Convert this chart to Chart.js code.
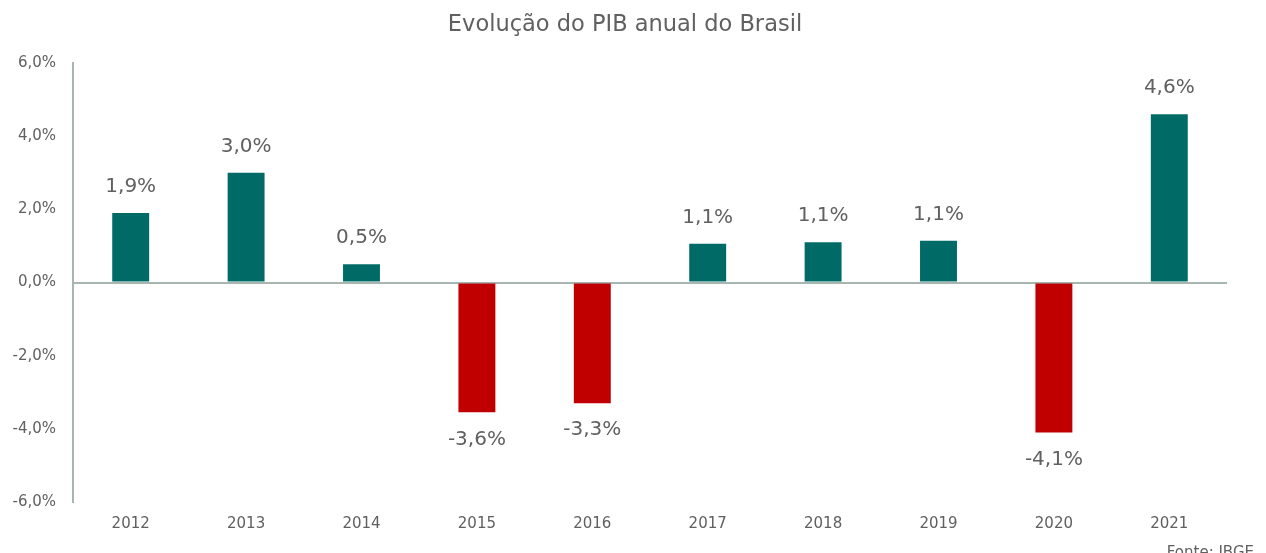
<!DOCTYPE html>
<html>
<head>
<meta charset="utf-8">
<script src="https://cdn.jsdelivr.net/npm/chart.js@4/dist/chart.umd.min.js"></script>
<style>
html,body{margin:0;padding:0;background:#fff;}
#wrap{width:1266px;height:553px;position:relative;}
</style>
</head>
<body>
<div id="wrap"><canvas id="c" width="1266" height="553"></canvas></div>
<script>
const categories = ['2012','2013','2014','2015','2016','2017','2018','2019','2020','2021'];
const pibValues = [1.9, 3.0, 0.5, -3.55, -3.3, 1.06, 1.1, 1.14, -4.1, 4.6];
const valueLabels = ['1,9%','3,0%','0,5%','-3,6%','-3,3%','1,1%','1,1%','1,1%','-4,1%','4,6%'];
const yTicks = [-6, -4, -2, 0, 2, 4, 6];
const titleText = 'Evolução do PIB anual do Brasil';
const sourceText = 'Fonte: IBGE';

const POS = '#006b66', NEG = '#c00000', TXT = '#606060', AXIS = '#a8b6b2';
const FONT = '"DejaVu Sans", sans-serif';

const labelPlugin = {
  id: 'labels',
  afterDatasetsDraw(chart) {
    const ctx = chart.ctx;
    const meta = chart.getDatasetMeta(0);
    ctx.save();
    ctx.fillStyle = TXT;
    ctx.font = '20px ' + FONT;
    ctx.textAlign = 'center';
    ctx.textBaseline = 'middle';
    meta.data.forEach((bar, i) => {
      const v = pibValues[i];
      const y = v >= 0 ? bar.y - 26 : bar.y + 27;
      ctx.fillText(valueLabels[i], bar.x, y);
    });
    // title
    ctx.font = '22.5px ' + FONT;
    ctx.fillText(titleText, 625, 25);
    // source
    ctx.font = '15px ' + FONT;
    ctx.textAlign = 'right';
    ctx.textBaseline = 'alphabetic';
    ctx.fillText(sourceText, 1254, 557);
    ctx.restore();
  }
};

new Chart(document.getElementById('c'), {
  type: 'bar',
  data: {
    labels: categories,
    datasets: [{
      data: pibValues,
      backgroundColor: pibValues.map(v => v >= 0 ? POS : NEG),
      barPercentage: 0.64,
      categoryPercentage: 0.5
    }]
  },
  options: {
    responsive: false,
    animation: false,
    layout: { padding: { top: 63, right: 39, bottom: 0, left: 0 } },
    plugins: { legend: { display: false }, tooltip: { enabled: false }, title: { display: false } },
    scales: {
      x: {
        grid: { display: false, drawTicks: false },
        border: { display: false },
        ticks: { color: TXT, font: { family: FONT, size: 15 }, padding: 13 },
        afterFit(s) { s.height = 51; }
      },
      y: {
        min: -6, max: 6,
        afterBuildTicks(s) { s.ticks = yTicks.map(v => ({ value: v })); },
        grid: {
          drawTicks: false,
          color: c => (c.tick && c.tick.value === 0) ? AXIS : 'rgba(0,0,0,0)',
          lineWidth: 2
        },
        border: { display: true, color: AXIS, width: 2 },
        ticks: {
          color: TXT, font: { family: FONT, size: 15 }, padding: 17,
          callback: v => v.toFixed(1).replace('.', ',') + '%'
        },
        afterFit(s) { s.width = 73; }
      }
    }
  },
  plugins: [labelPlugin]
});
</script>
</body>
</html>
